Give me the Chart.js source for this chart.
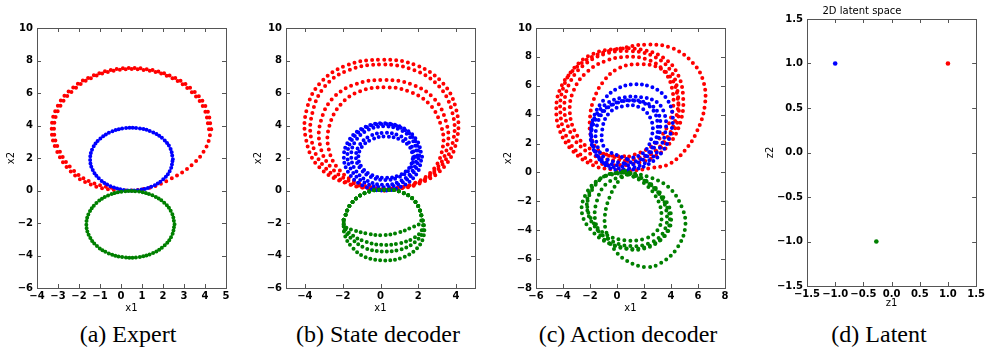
<!DOCTYPE html>
<html>
<head>
<meta charset="utf-8">
<script src="https://cdn.jsdelivr.net/npm/chart.js@4/dist/chart.umd.min.js"></script>
<style>
body{margin:0;background:#fff;width:987px;height:358px;position:relative;overflow:hidden}
canvas{position:absolute;top:0}
.cap{position:absolute;top:322px;line-height:24px;font-family:"Liberation Serif",serif;font-size:24px;transform:translateX(-50%);white-space:nowrap;color:#000}
</style>
</head>
<body>
<canvas id="cA" width="240" height="318" style="left:0"></canvas>
<canvas id="cB" width="240" height="318" style="left:245px"></canvas>
<canvas id="cC" width="240" height="318" style="left:495px"></canvas>
<canvas id="cD" width="242" height="318" style="left:745px"></canvas>
<div class="cap" style="left:128px">(a) Expert</div>
<div class="cap" style="left:378px">(b) State decoder</div>
<div class="cap" style="left:628px">(c) Action decoder</div>
<div class="cap" style="left:879px">(d) Latent</div>
<script>
// --- Data: trajectory loops, as [x1, x2] ---
// (a) Expert
const expertRed = [[4.3,3.77],[4.07,5.06],[3.41,6.19],[2.4,7.03],[1.16,7.48],[-0.16,7.48],[-1.4,7.03],[-2.41,6.19],[-3.07,5.06],[-3.3,3.77],[-3.07,2.48],[-2.42,1.2],[-1.5,0.4],[-0.3,0.03],[1.2,0.12],[2.35,0.7],[3.4,1.6],[4.05,2.65]];
const expertRedInner = [[4.19,3.77],[3.96,5.02],[3.31,6.13],[2.34,6.97],[1.14,7.41],[-0.14,7.41],[-1.34,6.97],[-2.31,6.13],[-2.96,5.02],[-3.19,3.77],[-2.96,2.52],[-2.3,1.28],[-1.4,0.5],[-0.25,0.1]];
const expertBlue = [[2.47,1.93],[2.35,2.59],[2.01,3.17],[1.49,3.6],[0.84,3.83],[0.16,3.83],[-0.49,3.6],[-1.01,3.17],[-1.35,2.59],[-1.47,1.93],[-1.35,1.27],[-1.01,0.69],[-0.49,0.26],[0.16,0.03],[0.84,0.03],[1.49,0.26],[2.01,0.69],[2.35,1.27]];
const expertGreen = [[2.55,-2.08],[2.42,-1.38],[2.06,-0.76],[1.5,-0.3],[0.82,-0.06],[0.08,-0.06],[-0.6,-0.3],[-1.16,-0.76],[-1.52,-1.38],[-1.65,-2.08],[-1.52,-2.78],[-1.16,-3.4],[-0.6,-3.86],[0.08,-4.1],[0.82,-4.1],[1.5,-3.86],[2.06,-3.4],[2.42,-2.78]];

// (b) State decoder
const stateRed1 = [[0.2,0.0],[2.0,0.4],[3.4,1.5],[4.05,3.2],[4.0,5.0],[3.3,6.6],[1.9,7.7],[0.1,8.05],[-1.8,7.7],[-3.2,6.6],[-3.9,5.0],[-3.95,3.2],[-3.3,1.5],[-1.7,0.4]];
const stateRed2 = [[0.2,0.0],[1.9,0.4],[3.2,1.5],[3.85,3.1],[3.8,4.8],[3.1,6.4],[1.8,7.4],[0.1,7.75],[-1.7,7.4],[-2.95,6.4],[-3.6,4.8],[-3.65,3.1],[-3.0,1.5],[-1.6,0.4]];
const stateRed3 = [[0.25,0.05],[1.8,0.4],[3.0,1.4],[3.55,2.8],[3.45,4.3],[2.8,5.7],[1.6,6.55],[0.2,6.8],[-1.3,6.55],[-2.5,5.7],[-3.15,4.3],[-3.2,2.8],[-2.6,1.4],[-1.3,0.4]];
const stateRed4 = [[0.3,0.05],[1.7,0.4],[2.8,1.3],[3.3,2.7],[3.2,4.0],[2.6,5.3],[1.5,6.1],[0.25,6.35],[-1.1,6.1],[-2.1,5.3],[-2.7,4.0],[-2.75,2.6],[-2.2,1.3],[-1.1,0.4]];
const stateBlue1 = [[2.2,2.07],[1.92,3.1],[1.17,3.86],[0.13,4.14],[-0.9,3.86],[-1.66,3.1],[-1.94,2.07],[-1.66,1.04],[-0.9,0.28],[0.13,0.0],[1.17,0.28],[1.92,1.04]];
const stateBlue2 = [[2.05,2.15],[1.8,3.13],[1.1,3.84],[0.15,4.1],[-0.8,3.84],[-1.5,3.13],[-1.75,2.15],[-1.5,1.18],[-0.8,0.46],[0.15,0.2],[1.1,0.46],[1.8,1.18]];
const stateBlue3 = [[1.95,2.15],[1.72,3.05],[1.08,3.71],[0.2,3.95],[-0.68,3.71],[-1.32,3.05],[-1.55,2.15],[-1.32,1.25],[-0.68,0.59],[0.2,0.35],[1.08,0.59],[1.72,1.25]];
const stateBlue4 = [[1.8,2.1],[1.59,2.83],[1.03,3.36],[0.25,3.55],[-0.53,3.36],[-1.09,2.83],[-1.3,2.1],[-1.09,1.38],[-0.53,0.84],[0.25,0.65],[1.03,0.84],[1.59,1.38]];
const stateBlue5 = [[1.73,2.05],[1.54,2.69],[1.01,3.15],[0.28,3.32],[-0.45,3.15],[-0.98,2.69],[-1.17,2.05],[-0.98,1.42],[-0.45,0.95],[0.28,0.78],[1.01,0.95],[1.54,1.42]];
const stateGreen1 = [[-1.95,-1.8],[-1.55,-0.8],[-0.8,-0.15],[0.15,0.05],[1.1,-0.1],[1.85,-0.7],[2.2,-1.7],[2.3,-2.7],[1.9,-3.6],[1.1,-4.15],[0.2,-4.3],[-0.8,-4.1],[-1.5,-3.5],[-1.9,-2.7]];
const stateGreen2 = [[-1.95,-1.8],[-1.55,-0.8],[-0.8,-0.15],[0.15,0.05],[1.1,-0.1],[1.85,-0.7],[2.2,-1.7],[2.25,-2.5],[1.8,-3.2],[1.0,-3.65],[0.1,-3.75],[-0.8,-3.55],[-1.5,-3.0],[-1.9,-2.4]];
const stateGreen3 = [[-1.95,-1.8],[-1.55,-0.8],[-0.8,-0.15],[0.15,0.05],[1.1,-0.1],[1.85,-0.7],[2.2,-1.7],[2.2,-2.4],[1.8,-2.9],[1.0,-3.25],[0.1,-3.35],[-0.8,-3.15],[-1.5,-2.75],[-1.9,-2.3]];
const stateGreen4 = [[-1.95,-1.8],[-1.55,-0.8],[-0.8,-0.15],[0.15,0.05],[1.1,-0.1],[1.85,-0.7],[2.15,-1.9],[1.6,-2.3],[0.9,-2.6],[0.1,-2.75],[-0.7,-2.65],[-1.4,-2.45],[-1.9,-2.2]];

// (c) Action decoder
const actionRed1 = [[1.0,0.1],[2.5,0.3],[3.9,0.6],[5.0,1.5],[5.9,2.8],[6.5,4.6],[6.4,6.3],[5.6,7.6],[4.1,8.6],[2.2,8.85],[0.4,8.6],[-1.6,8.1],[-3.2,7.1],[-4.2,5.8],[-4.5,4.3],[-4.2,2.8],[-3.3,1.5],[-1.8,0.5],[-0.4,0.2]];
const actionRed2 = [[0.8,0.5],[2.6,1.0],[3.9,2.0],[4.7,3.5],[4.9,5.2],[4.5,6.8],[3.5,7.9],[1.8,8.5],[0.0,8.55],[-1.8,8.2],[-3.2,7.2],[-4.0,5.8],[-4.2,4.2],[-3.8,2.6],[-2.8,1.3],[-1.2,0.6]];
const actionRed3 = [[0.8,0.8],[2.5,1.3],[3.7,2.4],[4.4,3.9],[4.5,5.5],[4.0,7.0],[2.8,8.0],[1.0,8.4],[-0.9,8.2],[-2.5,7.4],[-3.5,6.2],[-3.9,4.7],[-3.6,3.1],[-2.7,1.8],[-1.2,1.0]];
const actionRed4 = [[0.9,1.1],[2.4,1.7],[3.5,2.8],[4.1,4.2],[4.1,5.7],[3.5,7.0],[2.3,7.8],[0.7,8.0],[-0.9,7.7],[-2.3,6.9],[-3.2,5.7],[-3.5,4.3],[-3.1,2.8],[-2.1,1.7],[-0.6,1.2]];
const actionRed5 = [[0.8,0.9],[2.6,1.3],[3.8,2.3],[4.5,3.6],[4.5,5.1],[4.1,6.4],[3.2,7.2],[1.7,7.5],[0.1,7.2],[-1.0,6.3],[-1.7,5.1],[-2.0,3.8],[-1.9,2.4],[-1.2,1.4]];
const actionBlue1 = [[0.4,0.05],[2.2,0.5],[3.4,1.5],[4.0,2.8],[4.1,4.1],[3.6,5.2],[2.6,5.9],[1.3,6.1],[0.0,5.8],[-1.0,5.0],[-1.7,3.9],[-1.9,2.6],[-1.5,1.3],[-0.7,0.4]];
const actionBlue2 = [[0.5,0.2],[2.0,0.6],[3.1,1.6],[3.6,2.9],[3.5,4.1],[2.9,4.9],[1.8,5.2],[0.5,5.2],[-0.7,4.8],[-1.6,3.9],[-1.95,2.7],[-1.7,1.5],[-0.9,0.6]];
const actionBlue3 = [[0.4,0.4],[1.8,0.8],[2.8,1.8],[3.2,3.1],[3.0,4.2],[2.2,4.8],[0.9,5.0],[-0.4,4.7],[-1.4,3.9],[-1.9,2.8],[-1.7,1.6],[-1.0,0.8]];
const actionBlue4 = [[0.6,0.6],[1.9,1.0],[2.8,2.1],[3.0,3.4],[2.6,4.4],[1.6,4.9],[0.3,4.9],[-0.9,4.3],[-1.5,3.2],[-1.5,2.0],[-0.9,1.0]];
const actionBlue5 = [[0.8,0.9],[2.0,1.4],[2.6,2.6],[2.5,3.7],[1.7,4.5],[0.5,4.6],[-0.6,4.1],[-1.1,2.9],[-0.9,1.7]];
const actionGreen1 = [[0.9,0.0],[2.3,-0.3],[3.8,-1.0],[4.8,-2.4],[5.05,-3.8],[4.4,-5.3],[3.2,-6.3],[2.1,-6.55],[0.7,-6.1],[-0.3,-5.2],[-0.8,-4.1],[-0.9,-3.0],[-0.5,-1.6],[0.2,-0.5]];
const actionGreen2 = [[0.5,0.0],[2.2,-0.6],[3.5,-1.8],[4.0,-3.0],[3.7,-4.2],[2.6,-5.0],[1.0,-5.3],[-0.6,-4.9],[-1.9,-4.0],[-2.6,-2.8],[-2.3,-1.5],[-1.2,-0.4]];
const actionGreen3 = [[0.6,0.1],[2.0,-0.5],[3.2,-1.6],[3.7,-3.0],[3.4,-4.2],[2.4,-4.9],[1.0,-5.1],[-0.5,-4.7],[-1.6,-3.8],[-2.2,-2.6],[-2.0,-1.3],[-1.0,-0.3]];
const actionGreen4 = [[0.4,0.0],[1.8,-0.6],[2.9,-1.7],[3.3,-3.0],[3.0,-4.0],[2.0,-4.6],[0.6,-4.7],[-0.8,-4.3],[-1.8,-3.4],[-2.2,-2.2],[-1.7,-1.0],[-0.8,-0.2]];
const actionGreen5 = [[0.8,-0.1],[2.4,-0.8],[3.6,-2.2],[3.9,-3.5],[3.3,-4.6],[1.9,-5.3],[0.4,-5.2],[-1.0,-4.6],[-1.6,-3.4],[-1.5,-2.0],[-0.8,-0.8]];

// (d) Latent
const latentBlue = [[-1.0,1.0]];
const latentRed = [[1.0,1.0]];
const latentGreen = [[-0.27,-1.0]];

// --- Tick labels ---
const expertXTicks = [-4,-3,-2,-1,0,1,2,3,4,5];
const expertYTicks = [-6,-4,-2,0,2,4,6,8,10];
const stateXTicks = [-4,-2,0,2,4];
const stateYTicks = [-6,-4,-2,0,2,4,6,8,10];
const actionXTicks = [-6,-4,-2,0,2,4,6,8];
const actionYTicks = [-8,-6,-4,-2,0,2,4,6,8,10];
const latentTicks = [-1.5,-1.0,-0.5,0.0,0.5,1.0,1.5];

const RED='#ff0000', BLUE='#0000ff', GREEN='#008000';
const FONT='DejaVu Sans';

// --- Frame + inward ticks on all four sides (matplotlib look) ---
const mplFrame = {
  id:'mplFrame',
  afterDatasetsDraw(chart){
    const {ctx, chartArea:a, scales:{x,y}} = chart;
    ctx.save();
    ctx.strokeStyle='#555'; ctx.lineWidth=1;
    ctx.beginPath();
    x.ticks.forEach(t=>{
      const px=Math.round(x.getPixelForValue(t.value))+0.5;
      ctx.moveTo(px,a.bottom); ctx.lineTo(px,a.bottom-4);
      ctx.moveTo(px,a.top); ctx.lineTo(px,a.top+4);
    });
    y.ticks.forEach(t=>{
      const py=Math.round(y.getPixelForValue(t.value))+0.5;
      ctx.moveTo(a.left,py); ctx.lineTo(a.left+4,py);
      ctx.moveTo(a.right,py); ctx.lineTo(a.right-4,py);
    });
    ctx.stroke();
    ctx.strokeRect(Math.round(a.left)+0.5, Math.round(a.top)+0.5, Math.round(a.right-a.left), Math.round(a.bottom-a.top));
    ctx.restore();
  }
};

// a loop of dots: dotted smooth line through the read points
function loop(pts,color,gap){
  return {data:pts.concat([pts[0]]).map(([x,y])=>({x,y})), showLine:true, borderColor:color, borderWidth:4,
    borderDash:[0,gap], borderCapStyle:'round', borderJoinStyle:'round', pointRadius:0, tension:0.4, fill:false};
}
function open(pts,color,gap){
  const d=loop(pts,color,gap); d.data.pop(); return d;
}
function dots(pts,color){
  return {data:pts.map(([x,y])=>({x,y})), backgroundColor:color, borderWidth:0, pointRadius:2.3, pointStyle:'circle'};
}
const minus = s => s.replace('-', '\u2212');

function axis(range,ticks,opt){
  return {
    type:'linear', min:range[0], max:range[1],
    afterBuildTicks(s){ s.ticks = ticks.map(v=>({value:v})); },
    afterFit(s){ if(opt.w) s.width=opt.w; if(opt.h) s.height=opt.h; },
    grid:{display:false, drawTicks:false}, border:{display:false},
    ticks:{autoSkip:false, maxRotation:0, padding:opt.tp, color:'#000',
      font:{family:FONT, size:10, weight:'bold'},
      callback:v=>minus(opt.dec ? Number(v).toFixed(opt.dec) : String(v))},
    title:{display:true, text:opt.label, color:'#000', font:{family:FONT, size:10}, padding:opt.lp}
  };
}

function makeChart(id, datasets, p){
  new Chart(document.getElementById(id), {
    type:'scatter',
    data:{datasets:datasets.reverse()},
    options:{
      responsive:false, animation:false, events:[],
      layout:{padding:{left:0, top:p.top, right:p.right, bottom:0}},
      plugins:{legend:{display:false}, tooltip:{enabled:false},
        title:p.title ? {display:true, text:p.title, color:'#000', font:{family:FONT, size:10, weight:'normal'}, padding:{top:5,bottom:2}} : {display:false}},
      scales:{
        x:axis(p.xr, p.xt, {h:p.xh, tp:2, label:p.xl, lp:{bottom:p.xlp}, dec:p.dec}),
        y:axis(p.yr, p.yt, {w:p.yw, tp:4, label:p.yl, lp:{top:p.ylp}, dec:p.dec})
      }
    },
    plugins:[mplFrame]
  });
}

makeChart('cA', [
  loop(expertRed,RED,6), open(expertRedInner,RED,6),
  loop(expertBlue,BLUE,3.5), loop(expertGreen,GREEN,3.5)
], {xr:[-4,5], yr:[-6,10], xt:expertXTicks, yt:expertYTicks, top:28, right:14, yw:37, xh:30, xl:'x1', yl:'x2', xlp:4, ylp:5});

makeChart('cB', [
  loop(stateRed1,RED,6), loop(stateRed2,RED,6), loop(stateRed3,RED,6), loop(stateRed4,RED,6),
  loop(stateBlue1,BLUE,5), loop(stateBlue2,BLUE,5), loop(stateBlue3,BLUE,5), loop(stateBlue4,BLUE,5), loop(stateBlue5,BLUE,5),
  loop(stateGreen1,GREEN,5), loop(stateGreen2,GREEN,5), loop(stateGreen3,GREEN,5), loop(stateGreen4,GREEN,5)
], {xr:[-5,5], yr:[-6,10], xt:stateXTicks, yt:stateYTicks, top:28, right:10, yw:41, xh:30, xl:'x1', yl:'x2', xlp:4, ylp:7});

makeChart('cC', [
  loop(actionRed1,RED,6), loop(actionRed2,RED,6), loop(actionRed3,RED,6), loop(actionRed4,RED,6), loop(actionRed5,RED,6),
  loop(actionBlue1,BLUE,5.5), loop(actionBlue2,BLUE,5.5), loop(actionBlue3,BLUE,5.5), loop(actionBlue4,BLUE,5.5), loop(actionBlue5,BLUE,5.5),
  loop(actionGreen1,GREEN,6), loop(actionGreen2,GREEN,6), loop(actionGreen3,GREEN,6), loop(actionGreen4,GREEN,6), loop(actionGreen5,GREEN,6)
], {xr:[-6,8], yr:[-8,10], xt:actionXTicks, yt:actionYTicks, top:28, right:10, yw:41, xh:30, xl:'x1', yl:'x2', xlp:4, ylp:7});

makeChart('cD', [
  dots(latentBlue,BLUE), dots(latentRed,RED), dots(latentGreen,GREEN)
], {xr:[-1.5,1.5], yr:[-1.5,1.5], xt:latentTicks, yt:latentTicks, top:0, right:8, yw:62, xh:32, xl:'z1', yl:'z2', xlp:9, ylp:19, dec:1, title:'2D latent space'});
</script>
</body>
</html>
